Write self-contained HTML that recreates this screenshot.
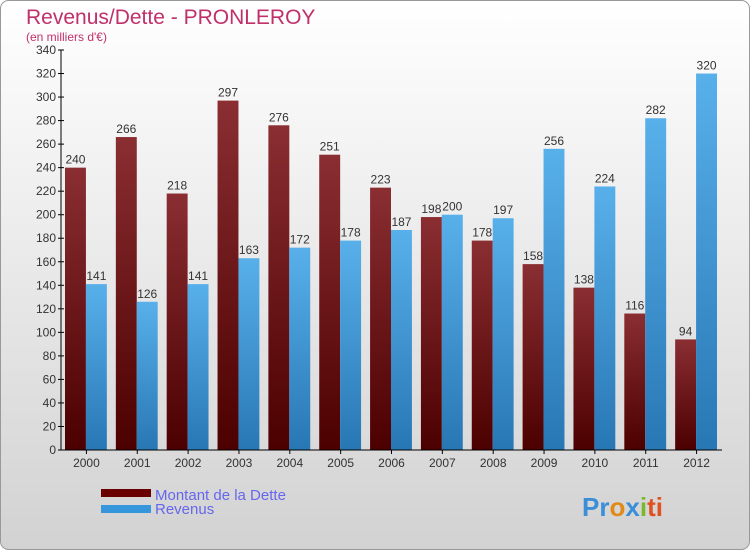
<!DOCTYPE html>
<html><head><meta charset="utf-8"><style>
body{margin:0;width:750px;height:550px;overflow:hidden;font-family:"Liberation Sans",sans-serif}
</style></head><body>
<svg width="750" height="550" xmlns="http://www.w3.org/2000/svg" id="chart">
<defs>
<linearGradient id="bg" x1="0" y1="0" x2="0" y2="1"><stop offset="0" stop-color="#ffffff"/><stop offset="1" stop-color="#d2d2d2"/></linearGradient>
<linearGradient id="gd" x1="0" y1="0" x2="0" y2="1"><stop offset="0" stop-color="#8a2e32"/><stop offset="1" stop-color="#4c0000"/></linearGradient>
<linearGradient id="gr" x1="0" y1="0" x2="0" y2="1"><stop offset="0" stop-color="#58b0ea"/><stop offset="1" stop-color="#2877b5"/></linearGradient>
</defs>
<rect x="0.5" y="0.5" width="749" height="549" rx="8" fill="url(#bg)" stroke="#999"/>
<text x="26" y="24" font-size="21" fill="#c0306a">Revenus/Dette - PRONLEROY</text>
<text x="26" y="41" font-size="12" fill="#c0306a">(en milliers d'€)</text>
<g id="plot"></g>
<rect x="101" y="489" width="50" height="8" fill="#6a0000"/>
<text x="155" y="500" font-size="15" fill="#6666ee">Montant de la Dette</text>
<rect x="101" y="505" width="50" height="8" fill="#3596dc"/>
<text x="155" y="514" font-size="15" fill="#6666ee">Revenus</text>
<text x="582" y="516" font-size="26" font-weight="bold"><tspan fill="#3a8fd8">Pr</tspan><tspan fill="#e08a1a">o</tspan><tspan fill="#3a8fd8">x</tspan><tspan fill="#7ab830">i</tspan><tspan fill="#e05020">ti</tspan></text>
</svg>
<script>
const categories=["2000","2001","2002","2003","2004","2005","2006","2007","2008","2009","2010","2011","2012"];
const debt=[240,266,218,297,276,251,223,198,178,158,138,116,94];
const revenue=[141,126,141,163,172,178,187,200,197,256,224,282,320];
const ticks=[0,20,40,60,80,100,120,140,160,180,200,220,240,260,280,300,320,340];
const NS="http://www.w3.org/2000/svg";
const g=document.getElementById('plot');
const x0=61,x1=722,yb=450,yt=50,ymax=340;
const gw=(x1-x0)/categories.length;
function y(v){return yb-(v/ymax)*(yb-yt);}
function mk(t,a){const e=document.createElementNS(NS,t);for(const k in a)e.setAttribute(k,a[k]);g.appendChild(e);return e;}
ticks.forEach(t=>{
 const l=mk('line',{x1:x0-3,x2:x0+3,y1:y(t),y2:y(t),stroke:'#000'});
 
 
 const tx=mk('text',{x:x0-5,y:y(t)+4,'font-size':12,'text-anchor':'end',fill:'#333'});
 tx.textContent=t;
 
 
});
categories.forEach((c,i)=>{
 const gx=x0+i*gw+4;
 const bw=(gw-9)/2;
 [[debt[i],'url(#gd)','bar-debt-'+c,gx],[revenue[i],'url(#gr)','bar-revenue-'+c,gx+bw]].forEach(([v,f,n,bx])=>{
  const r=mk('rect',{x:bx,y:y(v),width:bw,height:yb-y(v),fill:f});
  
  
  const t=mk('text',{x:bx+bw/2,y:y(v)-4,'font-size':12,'text-anchor':'middle',fill:'#333'});
  t.textContent=v;
  
  
 });
 const cx=x0+(i+0.5)*gw;
 const tk=mk('line',{x1:cx,x2:cx,y1:yb,y2:yb+4,stroke:'#000'});
 
 
 const xl=mk('text',{x:cx,y:yb+17,'font-size':12,'text-anchor':'middle',fill:'#333'});
 xl.textContent=c;
 
 
});
const ya=mk('line',{x1:x0,x2:x0,y1:yt,y2:yb,stroke:'#000'});


const xa=mk('line',{x1:x0,x2:x1,y1:yb,y2:yb,stroke:'#000'});


</script>
</body></html>
